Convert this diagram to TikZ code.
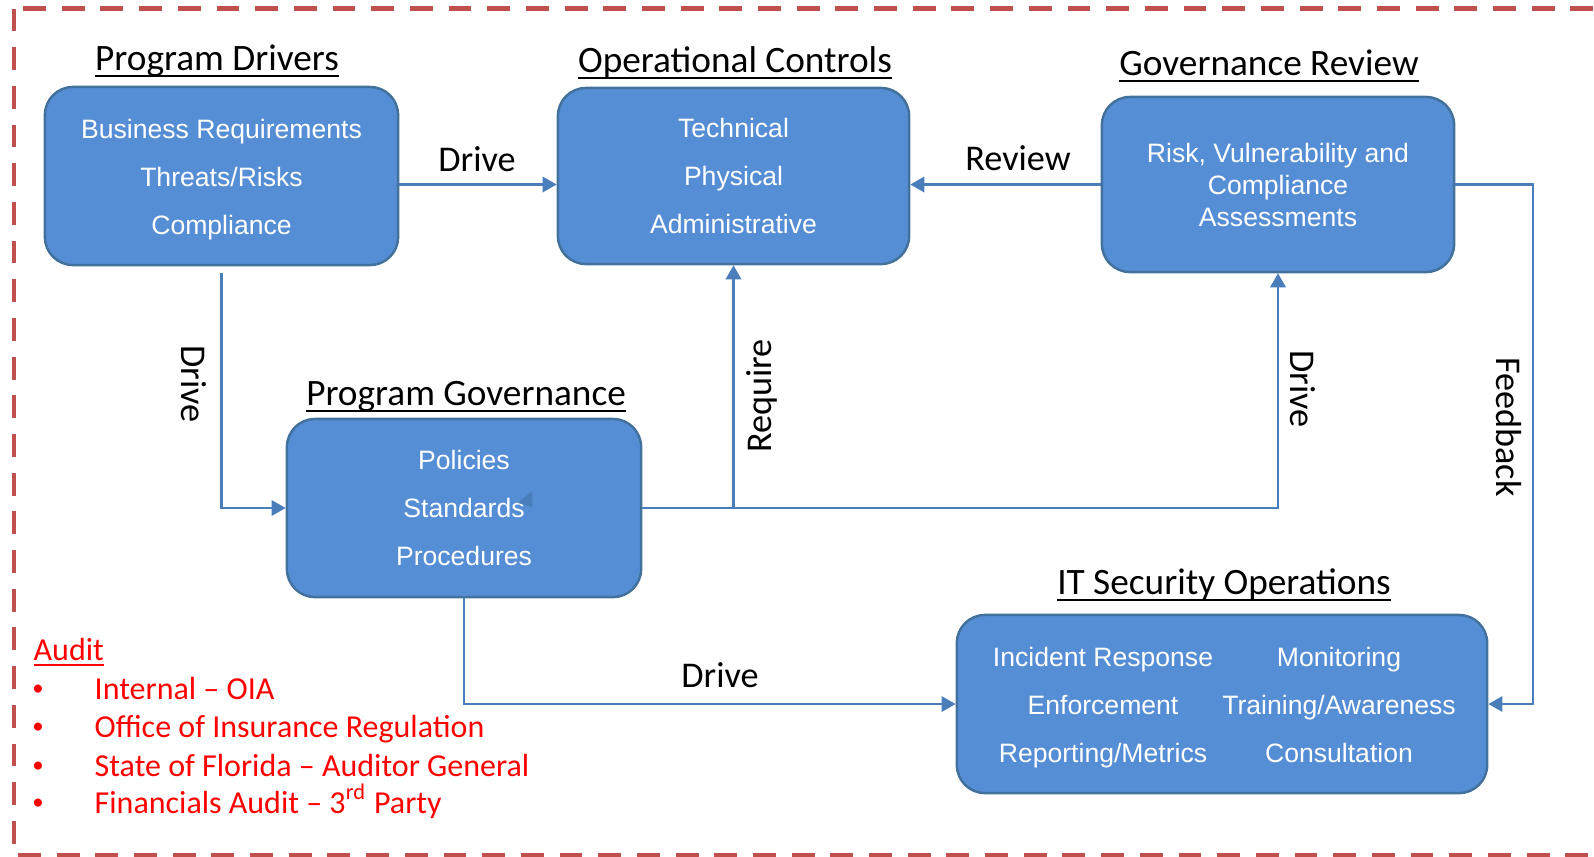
\documentclass[tikz,border=0pt]{standalone}
\usepackage{fontspec}
\setmainfont{Carlito}
\newfontfamily\arialfont{Liberation Sans}
\usetikzlibrary{arrows.meta}
\definecolor{boxfill}{RGB}{85,142,213}
\definecolor{boxline}{RGB}{65,113,156}
\definecolor{flowline}{RGB}{74,126,187}
\definecolor{framered}{RGB}{192,80,77}
\newcommand{\titleline}[1]{\setbox0\hbox{#1}\rlap{\rule[-0.19em]{\wd0}{0.06em}}\box0}
\tikzset{
  block/.style={draw=boxline, fill=boxfill, line width=0.7pt, rounded corners=0.28cm},
  blocktext/.style={text=white, align=center, font=\arialfont\fontsize{7.56}{13.66}\selectfont},
  heading/.style={anchor=base, inner sep=0pt, font=\fontsize{10.6}{12}\selectfont},
  flowlabel/.style={inner sep=0pt, font=\fontsize{10.3}{12}\selectfont},
  flow/.style={draw=flowline, line width=0.6pt, -{Triangle[length=4pt,width=4.4pt]}},
  audit/.style={anchor=base west, inner sep=0pt, text=red, font=\fontsize{9.1}{11}\selectfont},
}
\begin{document}
\begin{tikzpicture}[x=0.01cm,y=-0.01cm]
\useasboundingbox (0,0) rectangle (1594,856);
\clip (0,0) rectangle (1594,856);
\draw[framered, line width=1.3pt, dash pattern=on 6.5pt off 4.5pt] (14,8.5) rectangle (1620,855.5);

\node[block, blocktext, minimum width=3.53cm, minimum height=1.78cm] (drivers) at (221.5,176) {\rule{0pt}{7.3pt}Business Requirements\\Threats/Risks\\Compliance};
\node[block, blocktext, minimum width=3.51cm, minimum height=1.76cm] (controls) at (733.5,176) {Technical\\Physical\\Administrative};
\node[block, blocktext, font=\arialfont\fontsize{7.56}{9.1}\selectfont, minimum width=3.52cm, minimum height=1.75cm] (govreview) at (1278,184.5) {Risk, Vulnerability and\\Compliance\\Assessments};
\node[block, blocktext, minimum width=3.54cm, minimum height=1.78cm] (governance) at (464,508) {Policies\\Standards\\Procedures};
\node[block, minimum width=5.30cm, minimum height=1.78cm] (itsops) at (1222,704) {};
\node[blocktext] (itsleft) at (1103,708) {Incident Response\\Enforcement\\Reporting/Metrics};
\node[blocktext] (itsright) at (1339,705) {Monitoring\\Training/Awareness\\Consultation};
\fill[flowline] (532,491) -- (532,507) -- (518,503) -- cycle;

\node[heading] (driverstitle) at (217,70) {\titleline{Program Drivers}};
\node[heading] (controlstitle) at (735,72) {\titleline{Operational Controls}};
\node[heading] (reviewtitle) at (1269,75) {\titleline{Governance Review}};
\node[heading] (governancetitle) at (466,405) {\titleline{Program Governance}};
\node[heading] (itstitle) at (1224,594) {\titleline{IT Security Operations}};

\coordinate (fbturn) at (1533,704);
\draw[flow] (drivers.east |- govreview.west) -- (controls.west |- govreview.west);
\draw[flow] (govreview.west) -- (controls.east |- govreview.west);
\draw[flow] (govreview.east) -| (fbturn) -- (itsops.east);
\draw[flow, shorten <=2pt] (drivers.south) |- (governance.west);
\draw[flow] (governance.east) -| (govreview.south);
\draw[flow] (controls.south |- governance.east) -- (controls.south);
\draw[flow] (governance.south) |- (itsops.west);

\node[flowlabel] (drivetop) at (477,159) {Drive};
\node[flowlabel] (reviewlbl) at (1018,158) {Review};
\node[flowlabel, rotate=-90] (driveleft) at (194,384) {Drive};
\node[flowlabel, rotate=90] (requirelbl) at (762,396) {Require};
\node[flowlabel, rotate=-90] (driveright) at (1303,389) {Drive};
\node[flowlabel, rotate=-90] (feedbacklbl) at (1509,427) {Feedback};
\node[flowlabel] (drivebottom) at (720,675) {Drive};

\node[audit] (audithead) at (33,660) {\titleline{Audit}};
\foreach \y/\txt [count=\i] in {699/{Internal – OIA}, 737/{Office of Insurance Regulation}, 776/{State of Florida – Auditor General}, 813/{Financials Audit – 3\textsuperscript{rd} Party}} {
  \node[audit, anchor=base, font=\fontsize{6.5}{8}\selectfont] (bullet\i) at (38,\y-4) {•};
  \node[audit] (audititem\i) at (94,\y) {\txt};
}
\end{tikzpicture}
\end{document}
